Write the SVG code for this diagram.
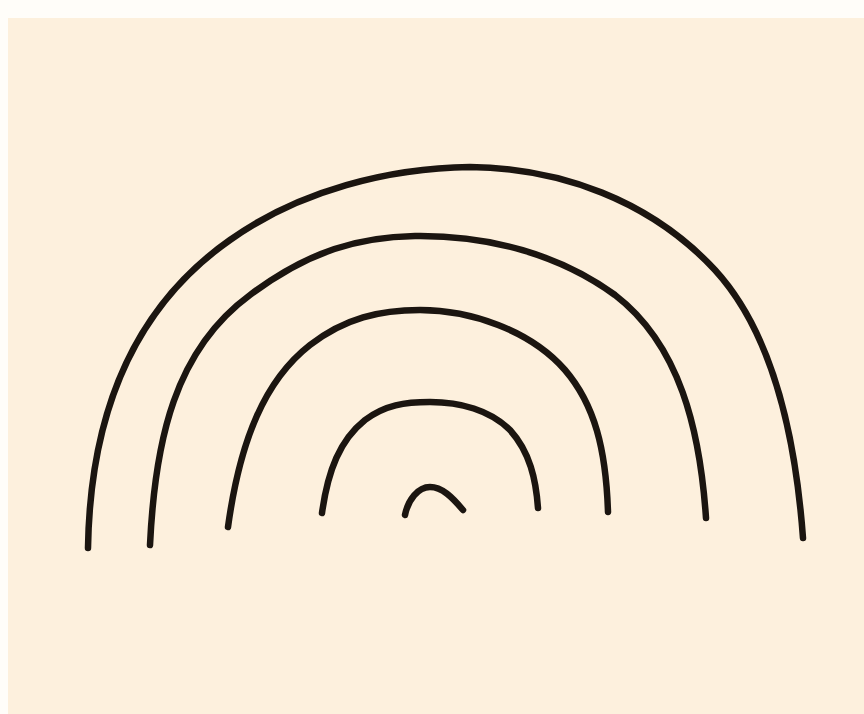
<svg xmlns="http://www.w3.org/2000/svg" width="864" height="714" viewBox="0 0 864 714">
<style>
.arc{fill:none;stroke:#1b1510;stroke-width:6.5;stroke-linecap:round;stroke-linejoin:round}
</style>
<rect x="0" y="0" width="864" height="714" fill="#fffdf9"/>
<rect x="8" y="18" width="856" height="696" fill="#fdf0dd"/>
<g id="arcs">
<path id="arc1" class="arc" d="M88,548 C90,420 130,310 230,240 C300,190 390,168 470,167 C560,168 650,200 715,270 C770,330 795,430 803,538"/>
<path id="arc2" class="arc" d="M150,545 C155,440 175,350 250,295 C310,250 360,237 415,236 C490,235 560,255 615,295 C680,345 700,430 706,518"/>
<path id="arc3" class="arc" d="M228,527 C240,440 265,380 310,345 C345,318 380,310 420,310 C470,310 530,330 565,370 C595,405 606,450 608,512"/>
<path id="arc4" class="arc" d="M322,513 C328,470 340,440 365,420 C385,405 405,402 430,402 C460,402 490,410 510,430 C530,452 536,480 538,508"/>
<path id="arc5" class="arc" d="M405,515 C408,500 418,487 430,487 C442,487 452,497 463,510"/>
</g>
</svg>
